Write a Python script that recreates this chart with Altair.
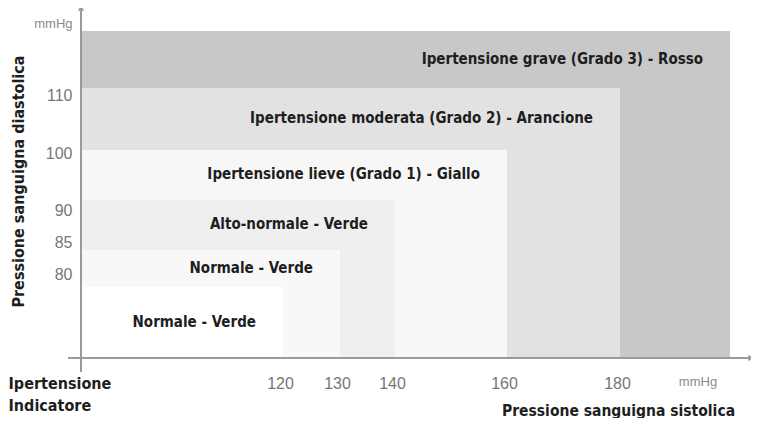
import altair as alt
import pandas as pd

# ---- data ----
categorie = [
    "Ipertensione grave (Grado 3) - Rosso",
    "Ipertensione moderata (Grado 2) - Arancione",
    "Ipertensione lieve (Grado 1) - Giallo",
    "Alto-normale - Verde",
    "Normale - Verde",
    "Normale - Verde",
]
sistolica_max = [200, 180, 160, 140, 130, 120]
diastolica_max = [120, 110, 100, 90, 85, 80]
colori = ["#c8c8c8", "#e2e2e2", "#f7f7f7", "#efefef", "#f8f8f8", "#ffffff"]

x_ticks = [0, 120, 130, 140, 160, 180, 195]
y_ticks = [80, 85, 90, 100, 110, 120]
asse_x = [0, 210]
asse_y = [0, 125]

FONT_TXT = "DejaVu Sans Condensed"
FONT_NUM = "Liberation Sans"

# ---- table ----
ymid = []
for i, d in enumerate(diastolica_max):
    below = diastolica_max[i + 1] if i + 1 < len(diastolica_max) else 0
    ymid.append((d + below) / 2)

df = pd.DataFrame({
    "id": [str(i) for i in range(len(categorie))],
    "categoria": categorie,
    "x0": [0] * len(categorie),
    "x1": sistolica_max,
    "y0": [0] * len(categorie),
    "y1": diastolica_max,
    "ymid": ymid,
})

# piecewise (non-uniform) scales, as in the original drawing
xs = alt.Scale(domain=[0, 120, 130, 140, 160, 180, 200, 210],
               range=[0, 202, 259, 314, 426, 539, 649, 670], nice=False, zero=False)
ys = alt.Scale(domain=[0, 80, 85, 90, 100, 110, 120, 125],
               range=[350, 279, 242, 192, 142, 80, 23, 0], nice=False, zero=False)

x_axis = alt.Axis(
    values=x_ticks,
    labelExpr="datum.value == 0 ? ['Ipertensione', 'Indicatore'] : (datum.value == 195 ? 'mmHg' : datum.label)",
    domain=False, ticks=False, tickSize=0, grid=False,
    labelPadding=17, labelOverlap=False, labelFlush=False, labelLineHeight=22,
    labelOffset={"condition": [{"test": "datum.value == 0", "value": -73},
                               {"test": "datum.value == 195", "value": -5}], "value": -3},
    labelAlign={"condition": {"test": "datum.value == 0", "value": "left"}, "value": "center"},
    labelFont={"condition": {"test": "datum.value == 0", "value": FONT_TXT}, "value": FONT_NUM},
    labelFontWeight={"condition": {"test": "datum.value == 0", "value": "bold"}, "value": "normal"},
    labelFontSize={"condition": [{"test": "datum.value == 0", "value": 16},
                                 {"test": "datum.value == 195", "value": 13}], "value": 16},
    labelColor={"condition": [{"test": "datum.value == 0", "value": "#1e1e1e"},
                              {"test": "datum.value == 195", "value": "#8a8a8a"}], "value": "#777777"},
    title="Pressione sanguigna sistolica",
    titleX=537, titleY=52, titleAlign="center", titleBaseline="middle",
    titleFont=FONT_TXT, titleFontSize=15.5, titleFontWeight="bold", titleColor="#1e1e1e",
)

y_axis = alt.Axis(
    values=y_ticks,
    labelExpr="datum.value == 120 ? 'mmHg' : datum.label",
    domain=False, ticks=False, tickSize=0, grid=False,
    labelPadding=9, labelOverlap=False, labelFlush=False,
    labelOffset={"condition": [{"test": "datum.value == 110", "value": 7},
                               {"test": "datum.value == 100", "value": 3},
                               {"test": "datum.value == 90", "value": 10},
                               {"test": "datum.value == 85", "value": -8},
                               {"test": "datum.value == 80", "value": -13},
                               {"test": "datum.value == 120", "value": -8}], "value": 0},
    labelFont=FONT_NUM,
    labelFontSize={"condition": {"test": "datum.value == 120", "value": 13}, "value": 16},
    labelColor={"condition": {"test": "datum.value == 120", "value": "#8a8a8a"}, "value": "#777777"},
    title="Pressione sanguigna diastolica",
    titleX=-63, titleY=173, titleAngle=-90, titleAlign="center", titleBaseline="middle",
    titleFont=FONT_TXT, titleFontSize=16, titleFontWeight="bold", titleColor="#1e1e1e",
)

base = alt.Chart(df)

rects = base.mark_rect().encode(
    x=alt.X("x0:Q", scale=xs, axis=x_axis),
    x2="x1:Q",
    y=alt.Y("y0:Q", scale=ys, axis=y_axis),
    y2="y1:Q",
    color=alt.Color("id:N", scale=alt.Scale(domain=df["id"].tolist(), range=colori), legend=None),
)

labels = base.mark_text(
    align="right", baseline="middle", dx=-27, dy=-1,
    font=FONT_TXT, fontSize=15, fontWeight="bold", color="#1e1e1e",
).encode(
    x=alt.X("x1:Q", scale=xs, axis=x_axis),
    y=alt.Y("ymid:Q", scale=ys, axis=y_axis),
    text="categoria:N",
)

rule_x = alt.Chart(pd.DataFrame({"a": [asse_x[1]], "b": [asse_x[0]], "y": [asse_y[0]]})).mark_rule(
    color="#9a9a9a", strokeWidth=2, x2Offset=-13
).encode(
    x=alt.X("a:Q", scale=xs, axis=x_axis), x2="b:Q", y=alt.Y("y:Q", scale=ys, axis=y_axis)
)

rule_y = alt.Chart(pd.DataFrame({"a": [asse_y[1]], "b": [asse_y[0]], "x": [asse_x[0]]})).mark_rule(
    color="#9a9a9a", strokeWidth=2, y2Offset=14
).encode(
    y=alt.Y("a:Q", scale=ys, axis=y_axis), y2="b:Q", x=alt.X("x:Q", scale=xs, axis=x_axis)
)

arrow_x = alt.Chart(pd.DataFrame({"x": [asse_x[1]], "y": [asse_y[0]]})).mark_point(
    shape="triangle-right", filled=True, size=40, color="#9a9a9a", opacity=1
).encode(x=alt.X("x:Q", scale=xs, axis=x_axis), y=alt.Y("y:Q", scale=ys, axis=y_axis))

arrow_y = alt.Chart(pd.DataFrame({"x": [asse_x[0]], "y": [asse_y[1]]})).mark_point(
    shape="triangle-up", filled=True, size=40, color="#9a9a9a", opacity=1
).encode(x=alt.X("x:Q", scale=xs, axis=x_axis), y=alt.Y("y:Q", scale=ys, axis=y_axis))

chart = alt.layer(rects, labels, rule_x, rule_y, arrow_x, arrow_y).properties(
    width=670, height=350,
    padding={"left": 73, "top": 0, "right": 0, "bottom": 60},
    autosize=alt.AutoSizeParams(type="none"),
    background="#ffffff",
).configure_view(stroke=None)

chart.save("out.html", embed_options={"renderer": "svg", "actions": False})
